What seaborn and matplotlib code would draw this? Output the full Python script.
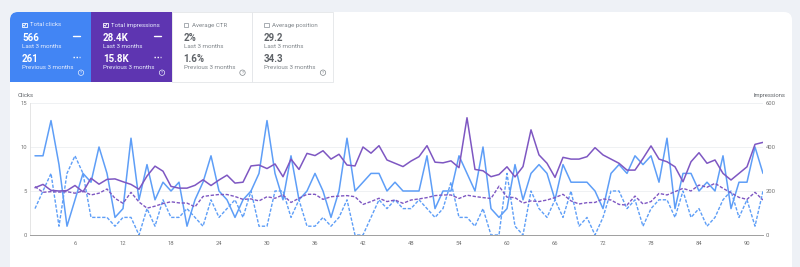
import numpy as np
import pandas as pd
import seaborn as sns
import matplotlib.pyplot as plt
from matplotlib.patches import FancyBboxPatch, Rectangle, Circle

# daily values (92 days)
days = list(range(1, 93))
clicks_cur = [9, 9, 13, 8, 1, 4, 7, 6, 10, 7,
              2, 3, 11, 4, 8, 4, 6, 5, 6, 1,
              4, 6, 9, 5, 4, 2, 4, 5, 7, 13,
              7, 4, 9, 4, 5, 7, 5, 2, 5, 11,
              5, 6, 7, 7, 5, 6, 5, 5, 5, 9,
              3, 5, 5, 9, 7, 5, 10, 3, 2, 3,
              8, 4, 7, 8, 7, 4, 8, 6, 6, 6,
              5, 3, 7, 8, 7, 9, 8, 9, 6, 11,
              3, 7, 7, 5, 6, 5, 9, 3, 6, 6,
              10, 7]
clicks_prev = [3, 5, 7, 1, 7, 9, 7, 2, 2, 2,
               1, 2, 2, 0, 3, 1, 4, 2, 2, 3,
               2, 1, 4, 2, 3, 4, 2, 5, 1, 1,
               5, 5, 2, 4, 1, 1, 2, 1, 2, 4,
               0, 0, 2, 4, 3, 4, 3, 3, 4, 3,
               2, 3, 6, 2, 2, 1, 3, 0, 0, 7,
               1, 0, 5, 3, 2, 4, 2, 5, 1, 2,
               0, 2, 5, 5, 3, 4, 1, 3, 4, 4,
               2, 5, 2, 3, 1, 2, 4, 5, 2, 4,
               1, 5]
impr_cur = [215, 230, 203, 200, 202, 225, 196, 258, 231, 253,
            255, 242, 230, 208, 268, 313, 290, 221, 213, 213,
            226, 251, 225, 250, 272, 236, 240, 314, 318, 302,
            323, 265, 345, 298, 371, 361, 383, 345, 367, 318,
            314, 400, 372, 406, 341, 326, 311, 336, 356, 406,
            331, 328, 337, 306, 533, 298, 292, 265, 275, 310,
            264, 311, 478, 364, 326, 262, 353, 345, 345, 356,
            397, 364, 345, 326, 295, 295, 348, 405, 345, 333,
            310, 242, 333, 374, 326, 341, 280, 250, 280, 310,
            412, 421]
impr_prev = [220, 194, 197, 195, 197, 190, 200, 182, 190, 209,
             167, 144, 194, 150, 122, 131, 143, 151, 146, 145,
             128, 175, 180, 184, 184, 175, 162, 164, 155, 174,
             167, 182, 148, 167, 185, 185, 162, 174, 177, 179,
             174, 139, 152, 167, 152, 159, 144, 159, 164, 170,
             179, 182, 182, 166, 181, 175, 170, 166, 222, 172,
             170, 145, 155, 152, 159, 170, 185, 155, 141, 147,
             148, 164, 159, 139, 136, 177, 141, 152, 189, 182,
             197, 212, 200, 227, 217, 235, 212, 192, 171, 162,
             194, 159]

tile_titles = ["Total clicks", "Total impressions", "Average CTR", "Average position"]
tile_last = ["566", "28.4K", "2%", "29.2"]
tile_prev = ["261", "15.8K", "1.6%", "34.3"]
x_ticks = list(range(6, 91, 6))
clicks_ticks = [0, 5, 10, 15]
impr_ticks = [0, 200, 400, 600]

BLUE_TILE = "#4285f4"
PURPLE_TILE = "#5e35b1"
BLUE_LINE = "#5e9ef7"
PURPLE_LINE = "#7e57c2"
GRAY_TXT = "#80868b"

sns.set_theme(style="white")
plt.rcParams['font.family'] = ['Roboto', 'DejaVu Sans']

df = pd.DataFrame({"day": days, "clicks": clicks_cur, "clicks_prev": clicks_prev,
                   "impressions": impr_cur, "impressions_prev": impr_prev})

fig = plt.figure(figsize=(8, 2.67), dpi=100)
fig.patch.set_facecolor("#eef1f6")

# background layer in pixel coords (y down)
bg = fig.add_axes([0, 0, 1, 1])
bg.set_xlim(0, 800)
bg.set_ylim(267, 0)
bg.axis("off")

bg.add_patch(FancyBboxPatch((10, 12), 782, 300, boxstyle="round,pad=0,rounding_size=8",
                            fc="white", ec="none"))

# score tiles
tile_x = [10, 91, 171.5, 252]
tile_w = 80.5
for i, x0 in enumerate(tile_x):
    filled = i < 2
    if i == 0:
        bg.add_patch(FancyBboxPatch((x0, 12), tile_w, 70, boxstyle="round,pad=0,rounding_size=8",
                                    fc=BLUE_TILE, ec="none"))
        bg.add_patch(Rectangle((x0 + 20, 12), tile_w - 20, 70, fc=BLUE_TILE, ec="none"))
        bg.add_patch(Rectangle((x0, 30), tile_w, 52, fc=BLUE_TILE, ec="none"))
    elif i == 1:
        bg.add_patch(Rectangle((x0, 12), tile_w, 70, fc=PURPLE_TILE, ec="none"))
    else:
        bg.add_patch(Rectangle((x0, 12), tile_w, 70, fc="white", ec="#e3e5e8", lw=0.6))

    fg = "white" if filled else "#5f6368"
    sub = "#e8eefc" if filled else GRAY_TXT
    box_c = "white" if filled else "#9aa0a6"
    bg.add_patch(Rectangle((x0 + 12, 22.7), 4.6, 4.6, fc="none", ec=box_c, lw=0.6))
    if filled:
        bg.plot([x0 + 13.1, x0 + 14.3, x0 + 15.8], [25.1, 26.3, 23.8], color="white", lw=0.6)
    bg.text(x0 + 20, 25, tile_titles[i], fontsize=4.4, color=sub, va="center", ha="left")
    bg.text(x0 + 12, 38, tile_last[i], fontsize=7, fontweight="bold", color=fg, va="center")
    bg.text(x0 + 12, 46.5, "Last 3 months", fontsize=4.5, color=sub, va="center")
    bg.text(x0 + 12, 58.5, tile_prev[i], fontsize=7, fontweight="bold", color=fg, va="center")
    bg.text(x0 + 12, 67.5, "Previous 3 months", fontsize=4.5, color=sub, va="center")
    if filled:
        bg.plot([x0 + 63, x0 + 70], [36, 36], color="white", lw=1.0)
        bg.plot([x0 + 63, x0 + 70], [56.5, 56.5], color="white", lw=1.0, ls=(0, (1, 1.2)))
    bg.add_patch(Circle((x0 + 71, 72.7), 2.7, fc="none", ec=sub, lw=0.5))
    bg.text(x0 + 71, 72.9, "?", fontsize=3, color=sub, ha="center", va="center")

bg.text(18, 95.7, "Clicks", fontsize=4.2, color="#5f6368", va="center", ha="left")
bg.text(785, 95.7, "Impressions", fontsize=4.2, color="#5f6368", va="center", ha="right")

# chart
ax = fig.add_axes([30 / 800, 1 - 235 / 267, 733 / 800, 132 / 267])
ax.patch.set_alpha(0)
sns.lineplot(data=df, x="day", y="clicks", ax=ax, color=BLUE_LINE, linewidth=1.1)
sns.lineplot(data=df, x="day", y="clicks_prev", ax=ax, color=BLUE_LINE, linewidth=1.0,
             linestyle=(0, (2.4, 1.2)))
ax.set_xlim(0.375, 92)
ax.set_ylim(0, 15)
ax.set_yticks(clicks_ticks)
ax.set_xticks(x_ticks)
ax.set_xlabel("")
ax.set_ylabel("")
ax.grid(axis="y", color="#eceff1", lw=0.6)
ax.tick_params(axis="both", length=0, labelsize=4.2, colors="#757575")
ax.tick_params(axis="y", pad=2.2)
ax.tick_params(axis="x", pad=4)
for s in ["top", "right"]:
    ax.spines[s].set_visible(False)
ax.spines["left"].set_color("#e0e0e0")
ax.spines["left"].set_linewidth(0.6)
ax.spines["bottom"].set_color("#9e9e9e")
ax.spines["bottom"].set_linewidth(0.7)

ax2 = ax.twinx()
sns.lineplot(data=df, x="day", y="impressions", ax=ax2, color=PURPLE_LINE, linewidth=1.1)
sns.lineplot(data=df, x="day", y="impressions_prev", ax=ax2, color=PURPLE_LINE, linewidth=1.0,
             linestyle=(0, (2.4, 1.2)))
ax2.set_ylim(0, 600)
ax2.set_yticks(impr_ticks)
ax2.set_ylabel("")
ax2.tick_params(axis="y", length=0, labelsize=4.2, colors="#757575", pad=2.2)
for s in ax2.spines.values():
    s.set_visible(False)
ax2.grid(False)

fig.savefig("out.png", dpi=100, facecolor=fig.get_facecolor())
